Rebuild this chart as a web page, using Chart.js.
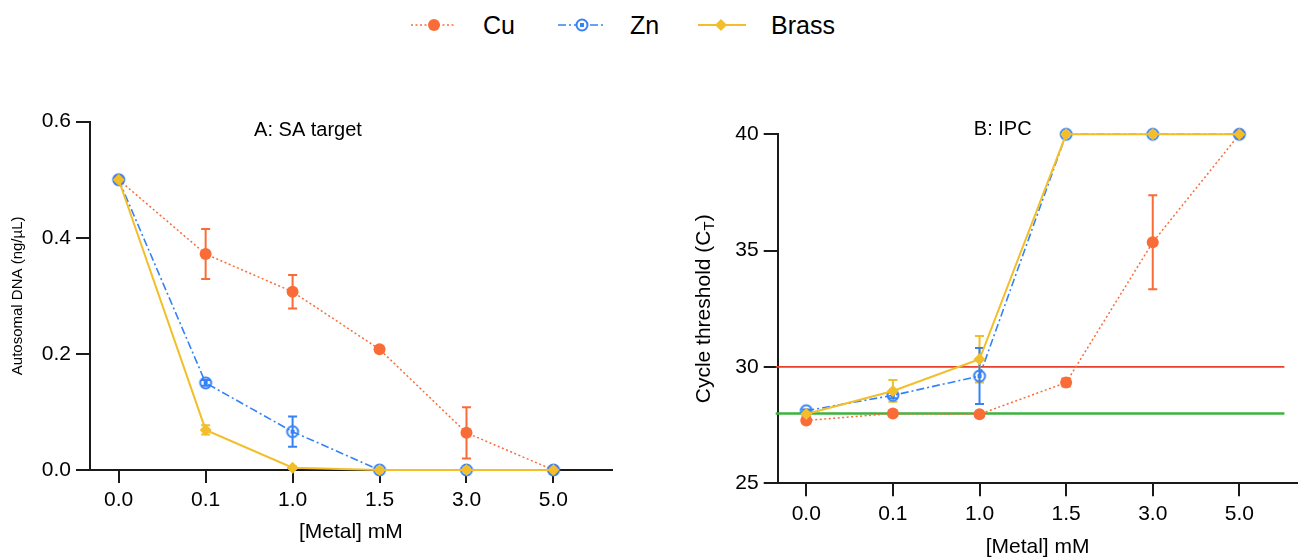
<!DOCTYPE html>
<html>
<head>
<meta charset="utf-8">
<script src="https://cdn.jsdelivr.net/npm/chart.js@4.4.1/dist/chart.umd.min.js"></script>
<style>
  html, body { margin:0; padding:0; background:#fff; width:1305px; height:560px; overflow:hidden;
    font-family:"Liberation Sans", Arial, sans-serif; }
  #c1 { position:absolute; left:0; top:0; }
  #c2 { position:absolute; left:650px; top:0; }
  #legend { position:absolute; left:0; top:0; width:1305px; height:50px; }
  .lg-sample { position:absolute; top:15px; }
  .lg-text { position:absolute; top:10px; font-size:25px; line-height:30px; color:#000; white-space:nowrap; }
</style>
</head>
<body>
<div id="legend"></div>
<canvas id="c1" width="650" height="560"></canvas>
<canvas id="c2" width="655" height="560"></canvas>
<script>
// ---------------- DATA ----------------
const categories = ['0.0', '0.1', '1.0', '1.5', '3.0', '5.0'];
const seriesNames = ['Cu', 'Zn', 'Brass'];
const panelTitles = ['A: SA target', 'B: IPC'];
const xAxisTitle = '[Metal] mM';
const yTitleA = 'Autosomal DNA (ng/µL)';
const yTitleB = ['Cycle threshold (C', 'T', ')'];

// Panel A: Autosomal DNA (ng/µL)
const dnaCu        = [0.500, 0.372, 0.307, 0.208, 0.064, 0.000];
const dnaCuErr     = [0,     0.043, 0.029, 0,     0.044, 0];
const dnaZn        = [0.500, 0.150, 0.066, 0.000, 0.000, 0.000];
const dnaZnErr     = [0,     0.005, 0.026, 0,     0,     0];
const dnaBrass     = [0.500, 0.069, 0.004, 0.000, 0.000, 0.000];
const dnaBrassErr  = [0,     0.008, 0.002, 0,     0,     0];
const dnaTicks     = [0, 0.2, 0.4, 0.6];

// Panel B: Cycle threshold (CT)
const ctCu         = [27.70, 28.00, 27.97, 29.33, 35.36, 40.00];
const ctCuErr      = [0.08,  0.08,  0.08,  0.17,  2.02,  0];
const ctZn         = [28.12, 28.78, 29.61, 40.00, 40.00, 40.00];
const ctZnErr      = [0.05,  0.12,  1.20,  0,     0,     0];
const ctBrass      = [27.98, 28.97, 30.33, 40.00, 40.00, 40.00];
const ctBrassErr   = [0.05,  0.47,  1.00,  0,     0,     0];
const ctTicks      = [25, 30, 35, 40];
const ctRefLines   = [30, 28];

// ---------------- STYLE ----------------
const FONT = '"Liberation Sans", Arial, sans-serif';
const C_CU = '#FA6C37', C_ZN = '#3482F6', C_BR = '#F2BE2A';
const C_REF = ['#E8412B', '#3DB33D'];
const AXIS = '#1a1a1a';
const FS = 21;
Chart.defaults.font.family = FONT;
Chart.defaults.color = '#000';

function znMarker() {
  const c = document.createElement('canvas');
  c.width = 16; c.height = 16;
  const g = c.getContext('2d');
  g.strokeStyle = C_ZN; g.lineWidth = 2;
  g.beginPath(); g.arc(8, 8, 5.5, 0, Math.PI * 2); g.stroke();
  g.fillStyle = C_ZN; g.fillRect(6, 6, 4, 4);
  return c;
}
const ZN_PT = znMarker();

const toPts = arr => arr.map((v, i) => ({ x: i, y: v }));

function makeDatasets(cu, cuE, zn, znE, br, brE) {
  return [
    { label: seriesNames[0], data: toPts(cu), errors: cuE, borderColor: C_CU, backgroundColor: C_CU,
      borderWidth: 1.5, borderDash: [2, 2.5], pointStyle: 'circle', pointRadius: 6,
      pointBorderWidth: 0, pointBackgroundColor: C_CU, order: 2, clip: false },
    { label: seriesNames[1], data: toPts(zn), errors: znE, borderColor: C_ZN, backgroundColor: C_ZN,
      borderWidth: 1.6, borderDash: [8, 3, 2, 3], pointStyle: ZN_PT, pointRadius: 6,
      order: 1, clip: false },
    { label: seriesNames[2], data: toPts(br), errors: brE, borderColor: C_BR, backgroundColor: C_BR,
      borderWidth: 2, pointStyle: 'rectRot', pointRadius: 6, pointBorderWidth: 0,
      pointBackgroundColor: C_BR, order: 0, clip: false }
  ];
}

const errorBarPlugin = {
  id: 'errbars',
  beforeDatasetsDraw(chart) {
    const ctx = chart.ctx, xs = chart.scales.x, ys = chart.scales.y;
    [...chart.data.datasets].reverse().forEach(ds => {
      if (!ds.errors) return;
      ctx.save();
      ctx.strokeStyle = ds.borderColor; ctx.lineWidth = 2;
      ds.data.forEach((p, i) => {
        const e = ds.errors[i];
        if (!e) return;
        const x = xs.getPixelForValue(p.x);
        const y1 = ys.getPixelForValue(p.y + e), y2 = ys.getPixelForValue(p.y - e);
        ctx.beginPath();
        ctx.moveTo(x, y1); ctx.lineTo(x, y2);
        ctx.moveTo(x - 4.5, y1); ctx.lineTo(x + 4.5, y1);
        ctx.moveTo(x - 4.5, y2); ctx.lineTo(x + 4.5, y2);
        ctx.stroke();
      });
      ctx.restore();
    });
  }
};

function panelTitlePlugin(text, dx, y) {
  return {
    id: 'ptitle',
    afterDraw(chart) {
      const ctx = chart.ctx;
      ctx.save();
      ctx.font = '20px ' + FONT; ctx.fillStyle = '#000';
      ctx.textAlign = 'center'; ctx.textBaseline = 'middle';
      ctx.fillText(text, chart.chartArea.left + dx, y);
      ctx.restore();
    }
  };
}

const refLinePlugin = {
  id: 'reflines',
  beforeDatasetsDraw(chart) {
    const ctx = chart.ctx, ys = chart.scales.y, ca = chart.chartArea;
    ctRefLines.forEach((v, i) => {
      const y = ys.getPixelForValue(v);
      ctx.save();
      ctx.strokeStyle = C_REF[i]; ctx.lineWidth = i === 0 ? 1.8 : 2.4;
      ctx.beginPath(); ctx.moveTo(ca.left - 2, y); ctx.lineTo(ca.right - 13, y); ctx.stroke();
      ctx.restore();
    });
  }
};

const yTitleBPlugin = {
  id: 'ytitleB',
  afterDraw(chart) {
    const ctx = chart.ctx, ca = chart.chartArea;
    ctx.save();
    ctx.translate(52, (ca.top + ca.bottom) / 2);
    ctx.rotate(-Math.PI / 2);
    ctx.fillStyle = '#000'; ctx.textBaseline = 'alphabetic'; ctx.textAlign = 'left';
    ctx.font = FS + 'px ' + FONT; const w1 = ctx.measureText(yTitleB[0]).width;
    ctx.font = '15px ' + FONT; const w2 = ctx.measureText(yTitleB[1]).width;
    ctx.font = FS + 'px ' + FONT; const w3 = ctx.measureText(yTitleB[2]).width;
    let x = -(w1 + w2 + w3) / 2;
    ctx.font = FS + 'px ' + FONT; ctx.fillText(yTitleB[0], x, 7.5);
    ctx.font = '15px ' + FONT; ctx.fillText(yTitleB[1], x + w1, 11.5);
    ctx.font = FS + 'px ' + FONT; ctx.fillText(yTitleB[2], x + w1 + w2, 7.5);
    ctx.restore();
  }
};

function scalesCfg(yMin, yMax, yTicks, yFmt, yWidth, xHeight, ytitle, xTitlePad) {
  const grid = { drawOnChartArea: false, drawTicks: true, tickLength: 13, tickWidth: 2,
                 tickColor: AXIS, color: AXIS, lineWidth: 2 };
  return {
    x: {
      type: 'linear', min: -0.33, max: 5.67,
      afterBuildTicks: s => { s.ticks = categories.map((_, i) => ({ value: i })); },
      afterFit: s => { s.height = xHeight; },
      ticks: { callback: v => categories[Math.round(v)], font: { size: FS }, color: '#000',
               padding: 5, maxRotation: 0, autoSkip: false },
      grid: grid,
      border: { display: true, color: AXIS, width: 2 },
      title: { display: true, text: xAxisTitle, font: { size: FS }, color: '#000',
               padding: { top: 0, bottom: xTitlePad } }
    },
    y: {
      type: 'linear', min: yMin, max: yMax,
      afterBuildTicks: s => { s.ticks = yTicks.map(v => ({ value: v })); },
      afterFit: s => { s.width = yWidth; },
      ticks: { callback: yFmt, font: { size: FS }, color: '#000', padding: 5 },
      grid: Object.assign({}, grid, { tickLength: 14 }),
      border: { display: true, color: AXIS, width: 2 },
      title: ytitle
    }
  };
}

const common = {
  responsive: false, animation: false, events: [],
  plugins: { legend: { display: false }, tooltip: { enabled: false } }
};

// Panel A
new Chart(document.getElementById('c1'), {
  type: 'line',
  data: { datasets: makeDatasets(dnaCu, dnaCuErr, dnaZn, dnaZnErr, dnaBrass, dnaBrassErr) },
  options: Object.assign({}, common, {
    layout: { padding: { left: 0, top: 121.7, right: 38.3, bottom: 0 } },
    scales: scalesCfg(0, 0.6, dnaTicks, v => v.toFixed(1), 90, 90,
      { display: true, text: yTitleA, font: { size: 15 }, color: '#000', padding: { top: 8.5, bottom: 0 } }, 15)
  }),
  plugins: [errorBarPlugin, panelTitlePlugin(panelTitles[0], 218, 130.5)]
});

// Panel B
new Chart(document.getElementById('c2'), {
  type: 'line',
  data: { datasets: makeDatasets(ctCu, ctCuErr, ctZn, ctZnErr, ctBrass, ctBrassErr) },
  options: Object.assign({}, common, {
    layout: { padding: { left: 0, top: 134.3, right: 4, bottom: 0 } },
    scales: scalesCfg(25, 40, ctTicks, v => String(v), 127.7, 76.7, { display: false }, 0)
  }),
  plugins: [refLinePlugin, errorBarPlugin, panelTitlePlugin(panelTitles[1], 225, 129), yTitleBPlugin]
});

// Legend (HTML)
(function () {
  const L = document.getElementById('legend');
  const items = [
    { sx: 409, tx: 483, color: C_CU, dash: '2,2.5', w: 1.5,
      marker: '<circle cx="25" cy="10" r="6" fill="' + C_CU + '"/>' },
    { sx: 556, tx: 630, color: C_ZN, dash: '8,3,2,3', w: 1.6,
      marker: '<circle cx="26" cy="10" r="5.5" fill="#fff" stroke="' + C_ZN + '" stroke-width="2"/>' +
              '<rect x="24" y="8" width="4" height="4" fill="' + C_ZN + '"/>' },
    { sx: 696, tx: 771, color: C_BR, dash: '', w: 2,
      marker: '<polygon points="25,4 31,10 25,16 19,10" fill="' + C_BR + '"/>' }
  ];
  items.forEach((it, i) => {
    const s = document.createElement('div');
    s.className = 'lg-sample'; s.style.left = it.sx + 'px';
    s.innerHTML = '<svg width="52" height="20" xmlns="http://www.w3.org/2000/svg">' +
      '<line x1="2" y1="10" x2="' + (i === 0 ? 46 : 50) + '" y2="10" stroke="' + it.color + '" stroke-width="' + it.w + '"' +
      (it.dash ? ' stroke-dasharray="' + it.dash + '"' : '') + '/>' + it.marker + '</svg>';
    L.appendChild(s);
    const t = document.createElement('div');
    t.className = 'lg-text'; t.style.left = it.tx + 'px'; t.textContent = seriesNames[i];
    L.appendChild(t);
  });
})();
</script>
</body>
</html>
